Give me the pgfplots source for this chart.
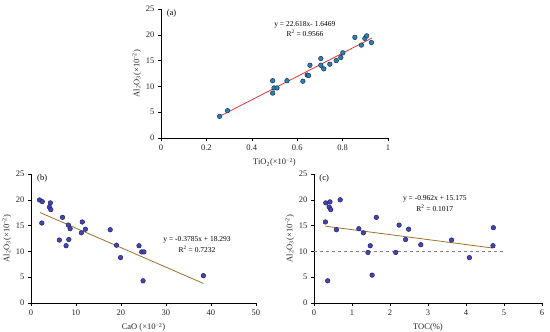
\documentclass[border=0pt]{standalone}
\usepackage{fontspec}
\setmainfont{Liberation Serif}
\usepackage{pgfplots}
\pgfplotsset{compat=1.18}
\definecolor{mka}{HTML}{2B80B5}
\definecolor{mkae}{HTML}{1A3550}
\definecolor{mkb}{HTML}{4545B0}
\definecolor{mkbe}{HTML}{22226A}
\definecolor{tra}{HTML}{E8323C}
\definecolor{trb}{HTML}{A07030}
\pgfplotsset{
  myax/.style={
    scale only axis,
    axis lines=left,
    axis line style={-, black, line width=0.6pt},
    tick style={black, line width=0.5pt},
    tick align=outside,
    major tick length=3pt,
    ymin=0, ymax=25, ytick={0,5,10,15,20,25},
    /pgf/number format/assume math mode=true,
    tick label style={font=\fontsize{8.5}{9}\selectfont, text=black!85},
    label style={font=\fontsize{8.5}{9}\selectfont, text=black!85},
    ylabel={Al\textsubscript{2}O\textsubscript{3}(×10\textsuperscript{−2})},
    ylabel style={yshift=-2pt},
    xlabel style={yshift=-1pt},
    clip=false,
    anchor=south west,
  }
}
\begin{document}
\begin{tikzpicture}[x=1pt,y=1pt]
\useasboundingbox (0,0) rectangle (550,332);
% (a)
\begin{axis}[myax, at={(161pt,194pt)}, width=227pt, height=129pt,
  xmin=0, xmax=1, xtick={0,0.2,0.4,0.6,0.8,1},
  xticklabels={0,0.2,0.4,0.6,0.8,1},
  xlabel={TiO\textsubscript{2}(×10\textsuperscript{−2})}]
\addplot[only marks, mark=*, mark size=2.3pt, mark options={fill=mka, draw=mkae, line width=0.5pt}] coordinates {
(0.258,4.2) (0.293,5.3) (0.492,8.7) (0.492,11.1) (0.498,9.7) (0.511,9.7)
(0.555,11.1) (0.625,11.0) (0.644,12.2) (0.650,12.1) (0.656,14.1) (0.704,15.4)
(0.704,14.1) (0.717,13.4) (0.744,14.3) (0.772,15.0) (0.792,15.6) (0.801,16.5)
(0.854,19.5) (0.883,18.0) (0.898,19.3) (0.906,19.8) (0.927,18.5)};
\addplot[tra, line width=0.8pt] coordinates {(0.26,4.234) (0.93,19.388)};
\node[anchor=north west, font=\fontsize{8.5}{9}\selectfont] at (axis cs:0.01,25.6) {(a)};
\node[font=\fontsize{7.5}{8}\selectfont, align=center] at (axis cs:0.634,21.9) {y = 22.618x- 1.6469};
\node[font=\fontsize{7.5}{8}\selectfont, align=center] at (axis cs:0.634,20.2) {R\textsuperscript{2} = 0.9566};
\end{axis}
% (b)
\begin{axis}[myax, at={(31pt,29pt)}, width=225pt, height=129pt,
  xmin=0, xmax=50, xtick={0,10,20,30,40,50},
  xlabel={CaO (×10\textsuperscript{−2})}]
\addplot[only marks, mark=*, mark size=2.3pt, mark options={fill=mkb, draw=mkbe, line width=0.5pt}] coordinates {
(1.9,19.97) (2.5,19.65) (2.4,15.5) (4.3,19.4) (4.1,18.6) (4.4,18.1)
(6.3,12.2) (7.0,16.6) (7.8,11.1) (8.3,15.1) (8.4,12.3) (8.7,14.4)
(11.2,13.6) (11.4,15.7) (12.1,14.3) (17.6,14.2) (19.0,11.2) (19.9,8.8)
(24.0,11.1) (24.6,9.9) (25.1,9.9) (24.9,4.3) (38.3,5.3)};
\addplot[trb, line width=0.8pt] coordinates {(2,17.536) (38.3,3.797)};
\node[anchor=north west, font=\fontsize{8.5}{9}\selectfont] at (axis cs:0.6,25.6) {(b)};
\node[font=\fontsize{7.5}{8}\selectfont] at (axis cs:36.9,12.2) {y = -0.3785x + 18.293};
\node[font=\fontsize{7.5}{8}\selectfont] at (axis cs:36.9,10.4) {R\textsuperscript{2} = 0.7232};
\end{axis}
% (c)
\begin{axis}[myax, at={(314pt,29pt)}, width=228pt, height=129pt,
  xmin=0, xmax=6, xtick={0,1,2,3,4,5,6},
  xlabel={TOC(\%)}]
\addplot[gray, dashed, line width=0.6pt] coordinates {(0,10) (5,10)};
\addplot[only marks, mark=*, mark size=2.3pt, mark options={fill=mkb, draw=mkbe, line width=0.5pt}] coordinates {
(0.31,19.4) (0.42,19.6) (0.40,18.6) (0.44,18.1) (0.30,15.7) (0.69,20.0)
(0.36,4.3) (0.59,14.2) (1.18,14.4) (1.30,13.6) (1.48,11.1) (1.42,9.8)
(1.53,5.4) (1.64,16.6) (2.15,9.8) (2.24,15.1) (2.41,12.3) (2.49,14.3)
(2.81,11.3) (3.62,12.2) (4.09,8.8) (4.72,14.6) (4.71,11.1)};
\addplot[trb, line width=0.8pt] coordinates {(0.3,14.886) (4.7,10.654)};
\node[anchor=north west, font=\fontsize{8.5}{9}\selectfont] at (axis cs:0.05,25.6) {(c)};
\node[font=\fontsize{7.5}{8}\selectfont] at (axis cs:3.18,20.1) {y = -0.962x + 15.175};
\node[font=\fontsize{7.5}{8}\selectfont] at (axis cs:3.18,18.3) {R\textsuperscript{2} = 0.1017};
\end{axis}
\end{tikzpicture}
\end{document}
